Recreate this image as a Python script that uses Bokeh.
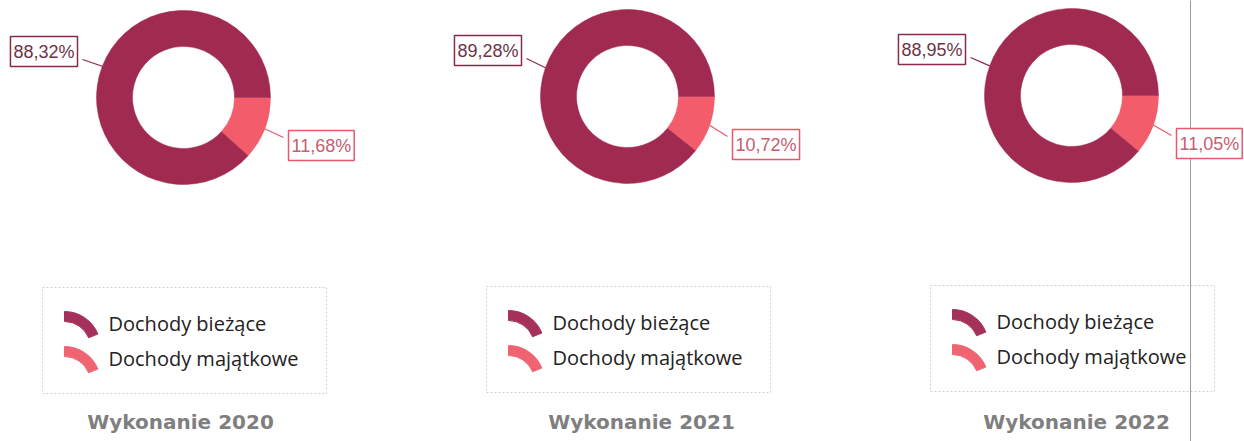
import math
from bokeh.plotting import figure
from bokeh.models import Range1d, Label
from bokeh.embed import file_html
from bokeh.resources import INLINE

# ---- data ----
years = ["2020", "2021", "2022"]
categories = ["Dochody bieżące", "Dochody majątkowe"]
biezace = [88.32, 89.28, 88.95]
majatkowe = [11.68, 10.72, 11.05]
titles = ["Wykonanie " + y for y in years]

# ---- layout (pixel positions in page coordinates) ----
centers = [(183, 97), (627, 96), (1071, 95)]
title_x = [180, 641, 1076]
R_OUT, R_IN = 87, 51
C_BIG, C_SMALL = "#a12a50", "#f25c6b"
ICON_BIG, ICON_SMALL = "#a5305a", "#f06472"

W, H = 1244, 441
p = figure(width=W, height=H, output_backend="svg", toolbar_location=None,
           x_range=Range1d(0, W), y_range=Range1d(-H, 0),
           min_border=0, outline_line_color=None)
p.axis.visible = False
p.grid.visible = False
p.background_fill_color = "white"
p.border_fill_color = "white"

def fmt(v):
    return f"{v:.2f}".replace(".", ",") + "%"

for i, (cx, cy) in enumerate(centers):
    fb = biezace[i] / 100.0
    fs = majatkowe[i] / 100.0
    Y = -cy
    # small slice: clockwise from 3 o'clock
    p.annular_wedge(x=[cx], y=[Y], inner_radius=R_IN, outer_radius=R_OUT,
                    start_angle=-fs * 2 * math.pi, end_angle=0,
                    fill_color=C_SMALL, line_color=C_SMALL, line_width=0.5)
    p.annular_wedge(x=[cx], y=[Y], inner_radius=R_IN, outer_radius=R_OUT,
                    start_angle=0, end_angle=fb * 2 * math.pi,
                    fill_color=C_BIG, line_color=C_BIG, line_width=0.5)

    # leaders and labels
    mb = fb * math.pi
    ms = -fs * math.pi
    # big label (left)
    bx_r, by_c = cx - 101, cy - 46
    p.line([cx + R_OUT * math.cos(mb), bx_r], [Y + R_OUT * math.sin(mb), -(by_c + 8)],
           line_color="#8a2a4a", line_width=1.2)
    p.add_layout(Label(x=bx_r - 5, y=-by_c, text=fmt(biezace[i]), text_align="right",
                       text_baseline="middle", text_font="Liberation Sans", text_font_size="18px",
                       text_color="#6e3446", border_line_color="#8a2a4a", border_line_width=1.5,
                       background_fill_color="white", padding=(3, 5)))
    # small label (right)
    sx_l, sy_c = cx + 100, cy + 48
    p.line([cx + R_OUT * math.cos(ms), sx_l], [Y + R_OUT * math.sin(ms), -(sy_c - 8)],
           line_color="#e85a6a", line_width=1.2)
    p.add_layout(Label(x=sx_l + 5, y=-sy_c, text=fmt(majatkowe[i]), text_align="left",
                       text_baseline="middle", text_font="Liberation Sans", text_font_size="18px",
                       text_color="#c46070", border_line_color="#e85a6a", border_line_width=1.5,
                       background_fill_color="white", padding=(3, 5)))

    # legend box
    lx0, ly0 = cx - 141, cy + 190
    lw, lh = 284, 106
    p.rect(x=[lx0 + lw / 2], y=[-(ly0 + lh / 2)], width=lw, height=lh,
           fill_color=None, line_color="#d0d0d0", line_dash="2 2", line_width=1)
    for j, (cat, col) in enumerate(zip(categories, [ICON_BIG, ICON_SMALL])):
        ry = ly0 + 36 + 35 * j
        ix = lx0 + 22
        p.annular_wedge(x=[ix], y=[-(ry + 24)], inner_radius=26, outer_radius=36,
                        start_angle=math.radians(22), end_angle=math.radians(90),
                        fill_color=col, line_color=col)
        p.text(x=[lx0 + 66], y=[-ry], text=[cat], text_baseline="middle",
               text_font={"value": "Open Sans"}, text_font_size="20px", text_color="#222222")

    # title
    p.text(x=[title_x[i]], y=[-421], text=[titles[i]], text_align="center",
           text_baseline="middle", text_font={"value": "DejaVu Sans"}, text_font_style="bold",
           text_font_size="20px", text_color="#7f7f7f")

# scan page edge
p.line([1190, 1190], [0, -H], line_color="#9a9a9a", line_width=1)

open("out.html", "w").write(file_html(p, INLINE))
